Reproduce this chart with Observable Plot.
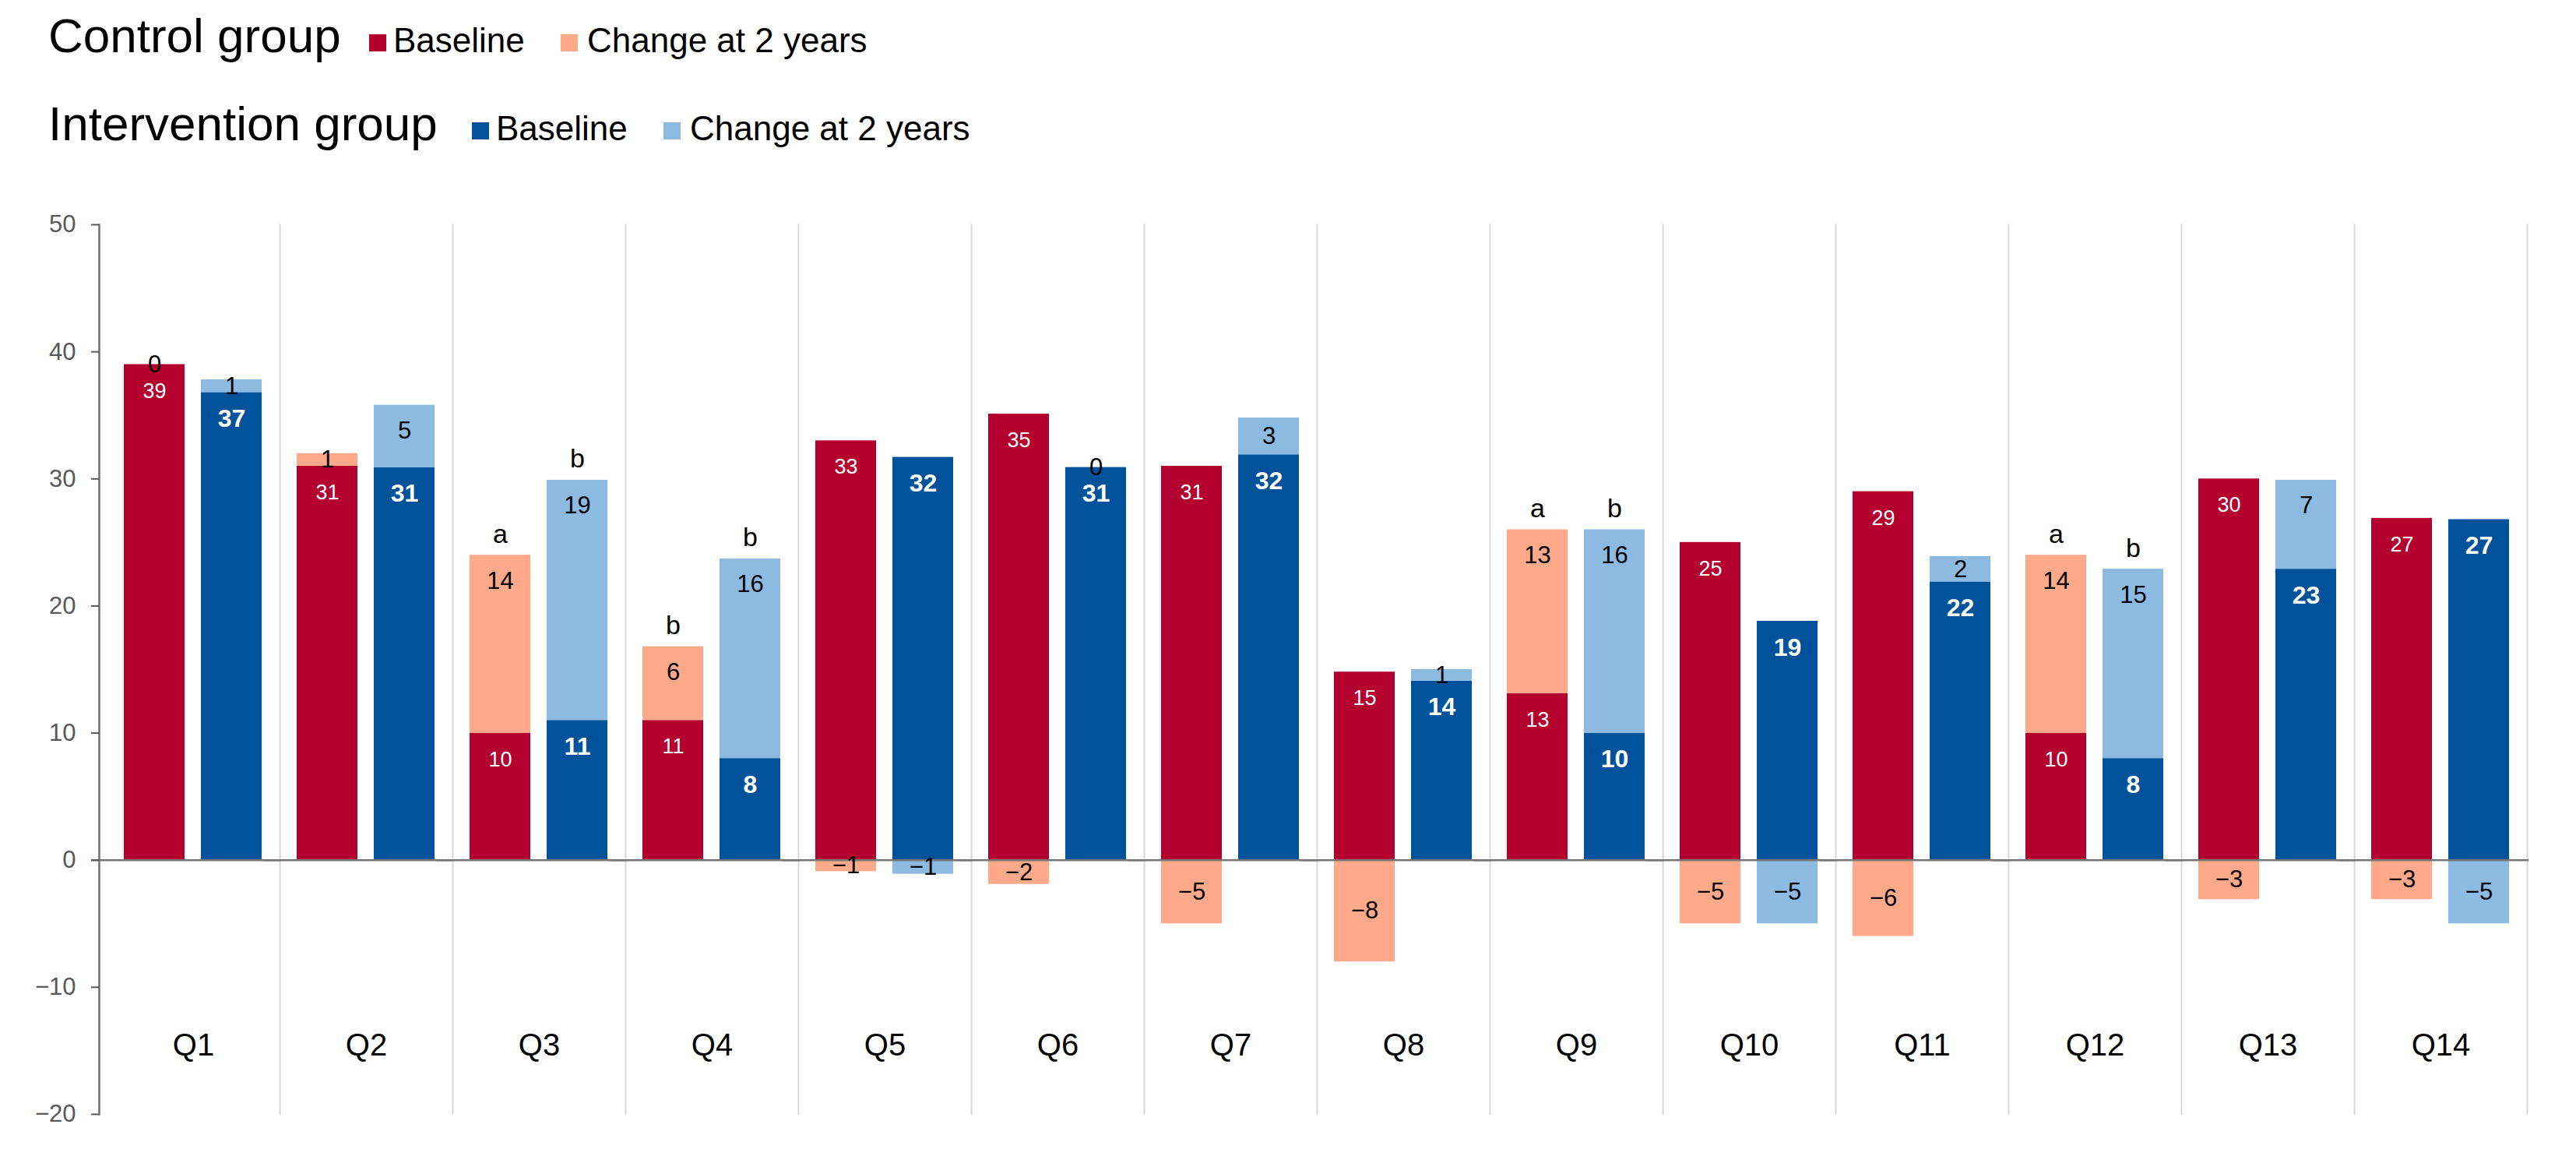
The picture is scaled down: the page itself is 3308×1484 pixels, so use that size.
<!DOCTYPE html>
<html>
<head>
<meta charset="utf-8">
<script src="https://cdn.jsdelivr.net/npm/d3@7"></script>
<script src="https://cdn.jsdelivr.net/npm/@observablehq/plot@0.6"></script>
<style>
  html, body { margin: 0; padding: 0; background: #fff; }
  #wrap { width: 3308px; height: 1484px; position: relative; font-family: "Liberation Sans", Arial, sans-serif; }
  #header { display: block; }
</style>
</head>
<body>
<div id="wrap">
  <svg id="header" width="3308" height="230" xmlns="http://www.w3.org/2000/svg" font-family="Liberation Sans, Arial, sans-serif">
    <text x="62" y="67" font-size="62" fill="#000">Control group</text>
    <rect x="474" y="44" width="22" height="22" fill="#B4002F"></rect>
    <text x="505" y="67" font-size="44" fill="#000">Baseline</text>
    <rect x="720" y="44" width="22" height="22" fill="#FDA98A"></rect>
    <text x="754" y="67" font-size="44" fill="#000">Change at 2 years</text>
    <text x="62" y="180" font-size="62" fill="#000">Intervention group</text>
    <rect x="606" y="157" width="22" height="22" fill="#00539B"></rect>
    <text x="637" y="180" font-size="44" fill="#000">Baseline</text>
    <rect x="852" y="157" width="22" height="22" fill="#8CBAE1"></rect>
    <text x="886" y="180" font-size="44" fill="#000">Change at 2 years</text>
  </svg>
  <div id="chart"></div>
</div>
<script>
// ---- data ----
const questions = ["Q1","Q2","Q3","Q4","Q5","Q6","Q7","Q8","Q9","Q10","Q11","Q12","Q13","Q14"];
const groups = ["Control", "Intervention"];
const controlBaseline      = [39.0, 31.0, 10.0, 11.0, 33.0, 35.1, 31.0, 14.8, 13.1, 25.0, 29.0, 10.0, 30.0, 26.9];
const controlChange        = [0.0, 1.0, 14.0, 5.8, -0.9, -1.9, -5.0, -8.0, 12.9, -5.0, -6.0, 14.0, -3.1, -3.1];
const interventionBaseline = [36.8, 30.9, 11.0, 8.0, 31.7, 30.9, 31.9, 14.1, 10.0, 18.8, 21.9, 8.0, 22.9, 26.8];
const interventionChange   = [1.0, 4.9, 18.9, 15.7, -1.1, 0.0, 2.9, 0.9, 16.0, -5.0, 2.0, 14.9, 7.0, -5.0];
const controlLetter        = ["", "", "a", "b", "", "", "", "", "a", "", "", "a", "", ""];
const interventionLetter   = ["", "", "b", "b", "", "", "", "", "b", "", "", "b", "", ""];
const yTicks = [-20, -10, 0, 10, 20, 30, 40, 50];

const seriesNames = ["Control baseline", "Control change", "Intervention baseline", "Intervention change"];
const seriesColors = ["#B4002F", "#FDA98A", "#00539B", "#8CBAE1"];

// ---- table built from the arrays ----
const rows = [];
questions.forEach((q, i) => {
  const sets = [
    ["Control", controlBaseline[i], controlChange[i], controlLetter[i]],
    ["Intervention", interventionBaseline[i], interventionChange[i], interventionLetter[i]]
  ];
  for (const [g, b, c, letter] of sets) {
    rows.push({q, group: g, series: g + " baseline", kind: "base", value: b, base: b, change: c, letter});
    rows.push({q, group: g, series: g + " change", kind: "change", value: c, base: b, change: c, letter});
  }
});

const fmt = v => { const r = Math.round(v); return r < 0 ? "\u2212" + (-r) : String(r); };
const baseRows = rows.filter(d => d.kind === "base");
const changeRows = rows.filter(d => d.kind === "change");
const endLabelRows = changeRows.filter(d => d.change >= 4);
const midLabelRows = changeRows.filter(d => d.change < 4);
const letterRows = baseRows.filter(d => d.letter);
const stackTop = d => d.base + Math.max(d.change, 0);
const segMid = d => d.change >= 0 ? d.base + d.change / 2 : d.change / 2;

const chart = Plot.plot({
  width: 3308,
  height: 1254,
  marginTop: 58,
  marginBottom: 54,
  marginLeft: 137,
  marginRight: 63,
  style: {fontFamily: "Liberation Sans, Arial, sans-serif", background: "#fff", overflow: "visible"},
  fx: {domain: questions, padding: 0, label: null},
  x: {domain: groups, paddingInner: 0.212, paddingOuter: 0.227, axis: null, label: null},
  y: {domain: [-20, 50], label: null},
  color: {domain: seriesNames, range: seriesColors},
  marks: [
    Plot.frame({anchor: "right", stroke: "#d9d9d9", strokeWidth: 2}),
    Plot.barY(rows, {fx: "q", x: "group", y: "value", fill: "series"}),
    Plot.ruleY([0], {stroke: "#767676", strokeWidth: 2.5, insetLeft: -20, insetRight: -2}),
    Plot.frame({anchor: "left", facet: "super", dx: -10, stroke: "#6e6e6e", strokeWidth: 2.5}),
    Plot.axisY({ticks: yTicks, label: null, dx: -10, tickSize: 10, tickPadding: 20, fontSize: 31, color: "#595959", strokeWidth: 2}),
    Plot.axisFx({anchor: "bottom", label: null, tickSize: 0, tickPadding: 0, lineAnchor: "middle", dy: -88, fontSize: 40, fill: "#000"}),
    Plot.text(baseRows.filter(d => d.group === "Control"), {
      fx: "q", x: "group", y: "base", text: d => fmt(d.base), dy: 34,
      fill: "#fff", fontSize: 27
    }),
    Plot.text(baseRows.filter(d => d.group === "Intervention"), {
      fx: "q", x: "group", y: "base", text: d => fmt(d.base), dy: 34,
      fill: "#fff", fontSize: 32, fontWeight: "bold"
    }),
    Plot.text(endLabelRows, {
      fx: "q", x: "group", y: stackTop, text: d => fmt(d.change), dy: 33,
      fill: "#000", fontSize: 31
    }),
    Plot.text(midLabelRows, {
      fx: "q", x: "group", y: segMid, text: d => fmt(d.change),
      fill: "#000", fontSize: 31
    }),
    Plot.text(letterRows, {
      fx: "q", x: "group", y: stackTop, text: "letter", dy: -27,
      fill: "#000", fontSize: 34
    })
  ]
});
document.getElementById("chart").appendChild(chart);
</script>
</body>
</html>
